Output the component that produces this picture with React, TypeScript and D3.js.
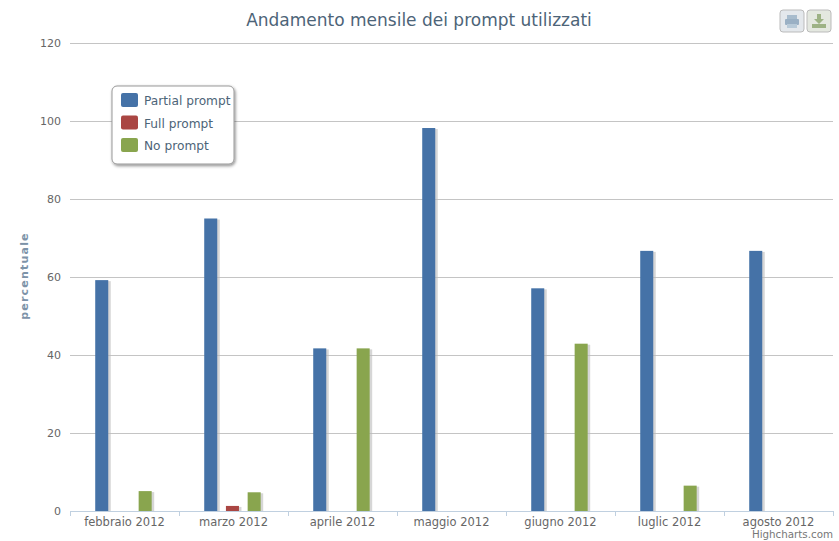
import React from "react";
import { scaleBand, scaleLinear } from "d3";

const months = ["febbraio 2012", "marzo 2012", "aprile 2012", "maggio 2012", "giugno 2012", "luglic 2012", "agosto 2012"];
const seriesNames = ["Partial prompt", "Full prompt", "No prompt"];
const seriesColors = ["#4572a7", "#aa4643", "#89a54e"];
const partialPrompt = [59.2, 75, 41.7, 98.2, 57.1, 66.7, 66.7];
const fullPrompt = [0, 1.3, 0, 0, 0, 0, 0];
const noPrompt = [5.1, 4.8, 41.7, 0, 42.9, 6.5, 0];
const yTicks = [0, 20, 40, 60, 80, 100, 120];

const font = "'Lucida Grande', 'DejaVu Sans', sans-serif";
const allSeries = [partialPrompt, fullPrompt, noPrompt];

export default function App() {
    const x = scaleBand<string>().domain(months).range([70, 833]);
    // three slots inside each month, highcharts style
    const inner = scaleBand<string>().domain(seriesNames).range([0, x.bandwidth()]).paddingInner(0.4).paddingOuter(1.21).align(0.48);
    const y = scaleLinear().domain([0, 120]).range([511, 43]);
    const ticksX = [...months.map((m) => x(m)!), 833];

    return (
        <svg width={839} height={541} style={{ position: "absolute", left: 0, top: 0, background: "#fff" }}>
            <defs>
                <filter id="blur" x="-30%" y="-30%" width="160%" height="160%">
                    <feGaussianBlur stdDeviation="0.6" />
                </filter>
                <filter id="legendShadow" x="-10%" y="-10%" width="120%" height="125%">
                    <feDropShadow dx="1" dy="1.5" stdDeviation="1.5" floodColor="#000" floodOpacity="0.45" />
                </filter>
            </defs>

            <text x={419} y={26} textAnchor="middle" fontFamily={font} fontSize={17} fill="#4d6478">
                Andamento mensile dei prompt utilizzati
            </text>

            {yTicks.map((t) => (
                <g key={t}>
                    <line x1={70} x2={833} y1={y(t)} y2={y(t)} stroke={t === 0 ? "#c0d0e0" : "#c4c4c4"} shapeRendering="crispEdges" />
                    <text x={61} y={y(t) + 4} textAnchor="end" fontFamily={font} fontSize={11} fill="#666">
                        {t}
                    </text>
                </g>
            ))}

            {ticksX.map((t) => (
                <line key={t} x1={t} x2={t} y1={511} y2={516} stroke="#c0d0e0" shapeRendering="crispEdges" />
            ))}

            {months.map((m) => (
                <text key={m} x={x(m)! + x.bandwidth() / 2} y={526} textAnchor="middle" fontFamily={font} fontSize={11.5} fill="#666">
                    {m}
                </text>
            ))}

            <text
                transform={`translate(28,276) rotate(-90)`}
                textAnchor="middle"
                fontFamily={font}
                fontSize={11}
                fontWeight="bold"
                letterSpacing={1.2}
                fill="#7d93a8"
            >
                percentuale
            </text>

            {allSeries.map((values, s) =>
                values.map((v, i) => {
                    if (v === 0) return null;
                    const bx = x(months[i])! + inner(seriesNames[s])!;
                    return (
                        <g key={`${s}-${i}`}>
                            <rect x={bx + 2.5} y={y(v) + 1} width={inner.bandwidth()} height={y(0) - y(v) - 1} fill="#bbb" opacity={0.6} filter="url(#blur)" />
                            <rect x={bx} y={y(v)} width={inner.bandwidth()} height={y(0) - y(v)} fill={seriesColors[s]} />
                        </g>
                    );
                })
            )}

            <g transform="translate(112,86)">
                <rect width={122} height={78} rx={5} fill="#fff" stroke="#999" strokeWidth={1} filter="url(#legendShadow)" />
                {seriesNames.map((name, i) => (
                    <g key={name} transform={`translate(9,${7 + i * 22.5})`}>
                        <rect width={17} height={14} rx={2} fill={seriesColors[i]} />
                        <text x={23} y={12} fontFamily={font} fontSize={12.2} fill="#4d6478">
                            {name}
                        </text>
                    </g>
                ))}
            </g>

            <g transform="translate(780,10)">
                <rect width={24} height={22} rx={3} fill="#e4e8ec" stroke="#bbb" />
                <rect x={7} y={5} width={10} height={4} fill="#a8bccd" />
                <rect x={5} y={9} width={14} height={6} rx={1} fill="#9ab0c4" />
                <rect x={7} y={14} width={10} height={4} fill="#b8cad8" />
            </g>
            <g transform="translate(807,10)">
                <rect width={24} height={22} rx={3} fill="#e4e8e0" stroke="#bbb" />
                <path d="M10 4h4v5h3l-5 5-5-5h3z" fill="#9db285" />
                <rect x={5} y={14} width={14} height={4} fill="#9db285" />
            </g>

            <text x={833} y={538} textAnchor="end" fontFamily={font} fontSize={10.3} fill="#777">
                Highcharts.com
            </text>
        </svg>
    );
}
